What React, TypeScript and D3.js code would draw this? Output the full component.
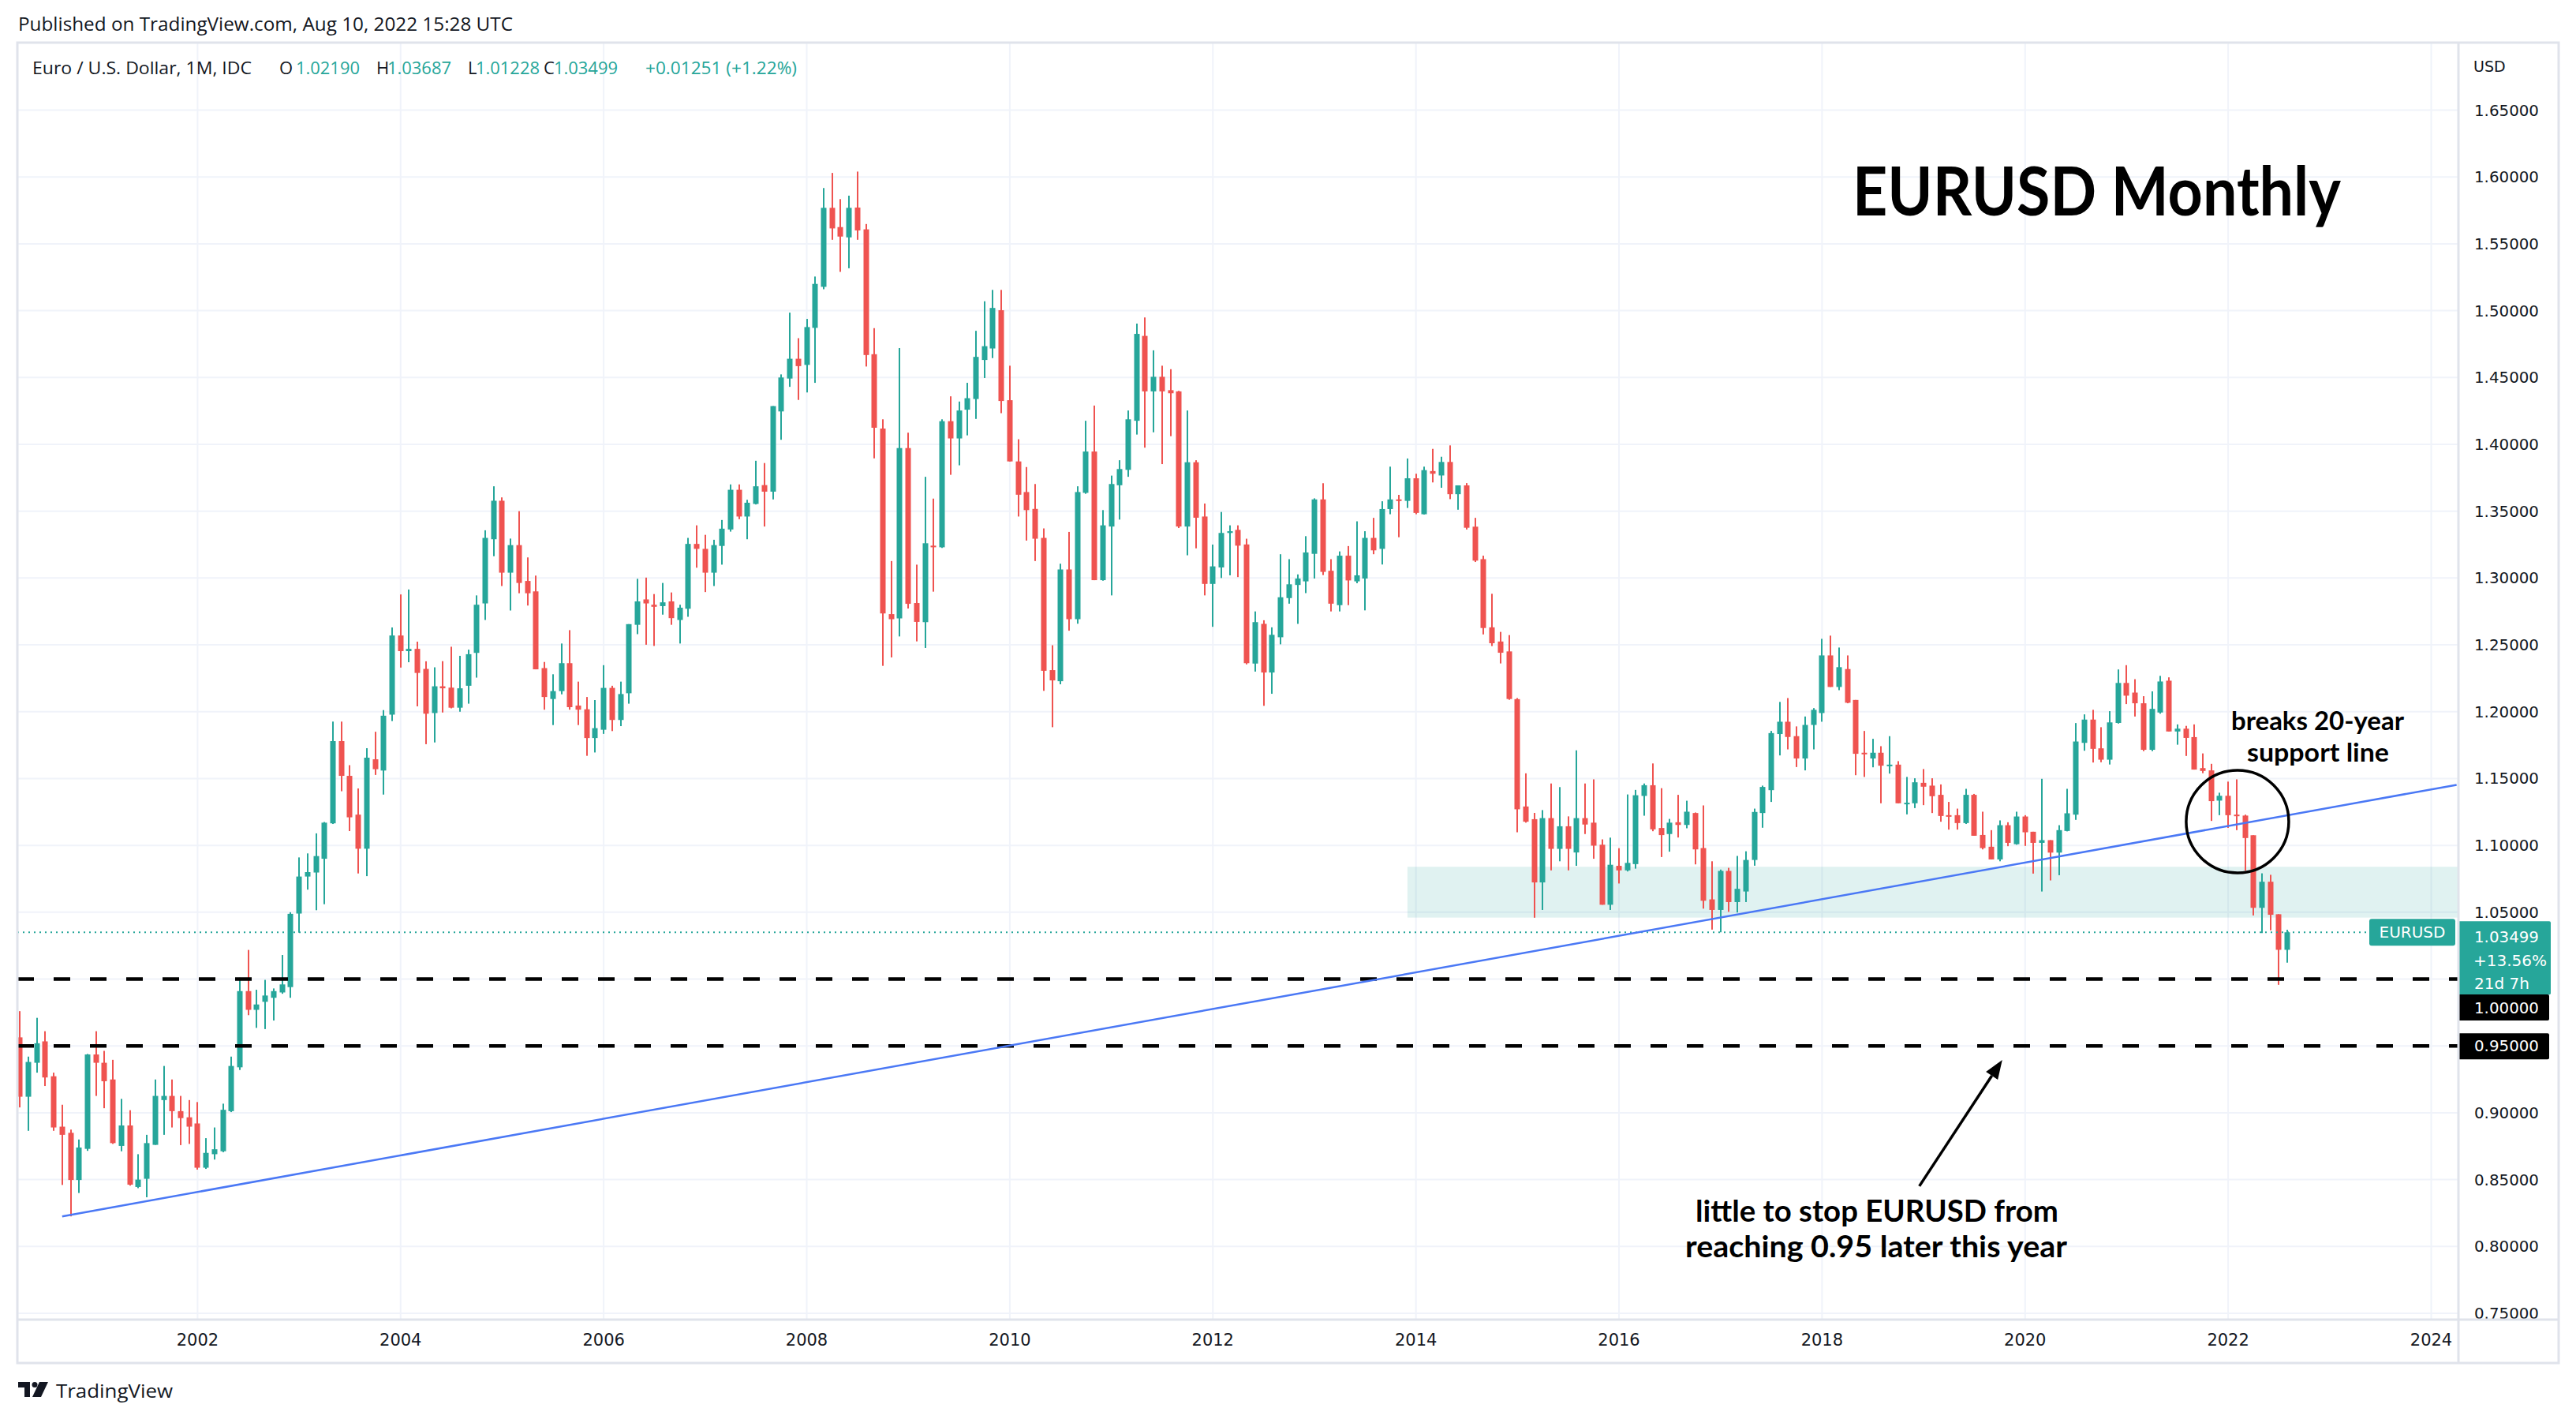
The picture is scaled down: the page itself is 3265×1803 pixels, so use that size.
import React from 'react';
import * as d3 from 'd3';

// ---------- DATA (EURUSD monthly, IDC) ----------
const FIRST_YEAR = 2000;
const FIRST_MONTH = 3; // April 2000 (0-based month)

const opens = [
  0.9564, 0.912, 0.9374, 0.9534, 0.9273, 0.8896, 0.885, 0.8497, 0.873,
  0.9436, 0.9374, 0.9249, 0.8752, 0.8905, 0.8445, 0.8506, 0.876, 0.9095, 0.9126, 0.9012, 0.8966,
  0.892, 0.8589, 0.869, 0.8712, 0.9012, 0.934, 0.991, 0.977, 0.983, 0.986, 0.99, 0.994,
  1.049, 1.0767, 1.0797, 1.09, 1.1165, 1.178, 1.152, 1.123, 1.0975, 1.1644, 1.156, 1.1978,
  1.257, 1.2453, 1.247, 1.232, 1.199, 1.219, 1.218, 1.203, 1.2194, 1.244, 1.281, 1.329,
  1.3578, 1.304, 1.3246, 1.2978, 1.29, 1.2326, 1.2095, 1.2154, 1.2363, 1.2046, 1.2018, 1.1803,
  1.1865, 1.2178, 1.1938, 1.2138, 1.265, 1.284, 1.28, 1.279, 1.2825, 1.2686, 1.277, 1.3255,
  1.3218, 1.304, 1.324, 1.3363, 1.366, 1.346, 1.3554, 1.3695, 1.3646, 1.4246, 1.4492, 1.464,
  1.4594, 1.4871, 1.5178, 1.5769, 1.5625, 1.5548, 1.5771, 1.5608, 1.4674, 1.4118, 1.273, 1.2698,
  1.3972, 1.2813, 1.267, 1.3242, 1.323, 1.4173, 1.4044, 1.4259, 1.4339, 1.4631, 1.4717, 1.5003,
  1.433, 1.3872, 1.3643, 1.3517, 1.33, 1.2311, 1.2228, 1.3064, 1.2692, 1.3637, 1.3946, 1.2984,
  1.3385, 1.3694, 1.3809, 1.4176, 1.4811, 1.4396, 1.4505, 1.4405, 1.4396, 1.3385, 1.3866, 1.346,
  1.2956, 1.3079, 1.3337, 1.336, 1.3251, 1.236, 1.2657, 1.2293, 1.2557, 1.285, 1.2948, 1.2975,
  1.3181, 1.3588, 1.3054, 1.2797, 1.3167, 1.2975, 1.2996, 1.33, 1.3218, 1.3516, 1.3588, 1.3577,
  1.3746, 1.3477, 1.38, 1.3767, 1.3868, 1.3627, 1.3693, 1.3384, 1.3141, 1.2631, 1.2525, 1.2451,
  1.2094, 1.1291, 1.1196, 1.0723, 1.1204, 1.0974, 1.1143, 1.0947, 1.1204, 1.117, 1.1005, 1.0556,
  1.0847, 1.0813, 1.086, 1.137, 1.145, 1.113, 1.1085, 1.1173, 1.1153, 1.1242, 1.098, 1.0596,
  1.0517, 1.0809, 1.0576, 1.0655, 1.0891, 1.1242, 1.1413, 1.1833, 1.1925, 1.1817, 1.165, 1.1901,
  1.199, 1.2421, 1.2185, 1.2319, 1.2088, 1.1693, 1.165, 1.1693, 1.1596, 1.1604, 1.1315, 1.1315,
  1.1468, 1.1447, 1.1378, 1.1226, 1.1226, 1.1167, 1.1378, 1.1078, 1.099, 1.0895, 1.1151, 1.1009,
  1.1216, 1.1102, 1.1019, 1.1039, 1.0946, 1.1108, 1.123, 1.1767, 1.1941, 1.1726, 1.1641, 1.1916,
  1.2215, 1.2143, 1.2063, 1.1715, 1.1994, 1.2232, 1.1852, 1.1873, 1.181, 1.1578, 1.1561, 1.1335,
  1.1371, 1.123, 1.1223, 1.1076, 1.0533, 1.0728, 1.0485, 1.0219,
];

const highs = [
  0.976, 0.942, 0.971, 0.961, 0.93, 0.906, 0.8874, 0.88, 0.944,
  0.961, 0.9463, 0.9396, 0.9104, 0.9019, 0.869, 0.8835, 0.9249, 0.935, 0.9249, 0.9126, 0.9095,
  0.908, 0.881, 0.889, 0.9068, 0.942, 1.001, 1.0218, 0.992, 0.9994, 0.993, 1.018, 1.05,
  1.091, 1.094, 1.109, 1.1175, 1.1926, 1.1926, 1.16, 1.1426, 1.1727, 1.185, 1.2012, 1.263,
  1.2877, 1.2914, 1.2524, 1.2377, 1.2332, 1.2378, 1.2486, 1.2418, 1.2464, 1.287, 1.3357, 1.3686,
  1.3603, 1.3295, 1.35, 1.3154, 1.3018, 1.2372, 1.228, 1.251, 1.261, 1.2225, 1.211, 1.2087,
  1.2348, 1.2194, 1.2225, 1.2655, 1.2994, 1.3003, 1.288, 1.2963, 1.2892, 1.28, 1.33, 1.3394,
  1.3323, 1.3286, 1.3434, 1.37, 1.37, 1.3585, 1.3877, 1.386, 1.4286, 1.4523, 1.4985, 1.4794,
  1.4938, 1.5255, 1.5917, 1.603, 1.5834, 1.586, 1.604, 1.5648, 1.4869, 1.4187, 1.3127, 1.472,
  1.4087, 1.31, 1.3757, 1.3594, 1.4187, 1.4359, 1.432, 1.446, 1.4849, 1.507, 1.5155, 1.5155,
  1.4588, 1.4038, 1.383, 1.3703, 1.3371, 1.2497, 1.3107, 1.3345, 1.3686, 1.4176, 1.429, 1.3508,
  1.3766, 1.3881, 1.4253, 1.4903, 1.4949, 1.4703, 1.4588, 1.4562, 1.44, 1.4253, 1.3881, 1.3557,
  1.325, 1.3494, 1.3394, 1.3394, 1.3294, 1.275, 1.2684, 1.2631, 1.3178, 1.3141, 1.3027, 1.3313,
  1.3596, 1.3709, 1.3141, 1.3199, 1.3239, 1.3424, 1.335, 1.345, 1.3574, 1.3833, 1.3622, 1.3894,
  1.378, 1.3833, 1.3966, 1.3907, 1.3992, 1.3693, 1.371, 1.345, 1.3167, 1.2882, 1.2597, 1.2573,
  1.2102, 1.1539, 1.1243, 1.1264, 1.1463, 1.1436, 1.1217, 1.1711, 1.1463, 1.1494, 1.1045, 1.1058,
  1.0979, 1.1381, 1.1415, 1.1463, 1.1613, 1.1428, 1.1198, 1.1378, 1.1334, 1.1246, 1.1299, 1.0881,
  1.0819, 1.0832, 1.0921, 1.0956, 1.1275, 1.1447, 1.1856, 1.2073, 1.2102, 1.189, 1.1964, 1.2027,
  1.2545, 1.2569, 1.248, 1.2421, 1.2088, 1.1856, 1.1797, 1.1742, 1.1817, 1.163, 1.1512, 1.1502,
  1.1571, 1.1502, 1.1456, 1.1325, 1.1275, 1.1423, 1.1385, 1.1252, 1.1114, 1.1187, 1.1173, 1.1252,
  1.1226, 1.1102, 1.1498, 1.1039, 1.1151, 1.1423, 1.1915, 1.198, 1.2014, 1.1884, 1.2004, 1.2316,
  1.2348, 1.2243, 1.2116, 1.2152, 1.2268, 1.2257, 1.1905, 1.1894, 1.1905, 1.1688, 1.161, 1.1394,
  1.1477, 1.1494, 1.123, 1.1076, 1.0791, 1.078, 1.0485, 1.03687,
];

const lows = [
  0.904, 0.8865, 0.93, 0.92, 0.8865, 0.846, 0.8225, 0.84, 0.8715,
  0.9126, 0.9034, 0.8767, 0.8712, 0.8455, 0.8436, 0.8368, 0.876, 0.8835, 0.889, 0.8758, 0.8767,
  0.8575, 0.858, 0.865, 0.8705, 0.9005, 0.932, 0.973, 0.9635, 0.9626, 0.969, 0.989, 0.986,
  1.0347, 1.0669, 1.0515, 1.056, 1.116, 1.1405, 1.1107, 1.079, 1.077, 1.1527, 1.138, 1.193,
  1.233, 1.237, 1.204, 1.1757, 1.177, 1.1994, 1.2025, 1.2, 1.206, 1.2255, 1.2686, 1.3163,
  1.294, 1.2757, 1.2886, 1.2794, 1.2317, 1.2015, 1.19, 1.213, 1.2015, 1.19, 1.167, 1.1695,
  1.1834, 1.1855, 1.1892, 1.206, 1.258, 1.2501, 1.2492, 1.2726, 1.265, 1.251, 1.271, 1.3077,
  1.2895, 1.294, 1.31, 1.3347, 1.344, 1.329, 1.355, 1.3385, 1.3588, 1.4034, 1.443, 1.4332,
  1.4388, 1.446, 1.516, 1.553, 1.529, 1.5317, 1.553, 1.4582, 1.3895, 1.2343, 1.2406, 1.2563,
  1.2772, 1.2526, 1.2477, 1.2898, 1.3225, 1.3772, 1.3843, 1.4067, 1.419, 1.4496, 1.4645, 1.4233,
  1.3872, 1.346, 1.328, 1.3127, 1.2156, 1.1884, 1.2205, 1.2606, 1.2658, 1.363, 1.2984, 1.298,
  1.287, 1.3437, 1.3757, 1.4073, 1.3975, 1.409, 1.3852, 1.4061, 1.3374, 1.317, 1.3222, 1.287,
  1.2635, 1.3, 1.302, 1.3007, 1.2354, 1.23, 1.2044, 1.2134, 1.2504, 1.2808, 1.2657, 1.2887,
  1.2996, 1.3022, 1.275, 1.275, 1.2797, 1.2961, 1.2758, 1.3178, 1.3101, 1.3477, 1.3305, 1.3524,
  1.3477, 1.3475, 1.3715, 1.3675, 1.359, 1.3511, 1.3363, 1.312, 1.2578, 1.2491, 1.2361, 1.2089,
  1.1098, 1.117, 1.0459, 1.0517, 1.0813, 1.0881, 1.0813, 1.0847, 1.1085, 1.09, 1.0556, 1.0517,
  1.0715, 1.0805, 1.0826, 1.1222, 1.1106, 1.0913, 1.0953, 1.1059, 1.1128, 1.0858, 1.0527, 1.037,
  1.035, 1.0503, 1.0498, 1.0576, 1.0848, 1.1132, 1.1325, 1.1673, 1.1718, 1.1586, 1.1561, 1.1718,
  1.1925, 1.2185, 1.2161, 1.2063, 1.1525, 1.1512, 1.1584, 1.1315, 1.1537, 1.1315, 1.1232, 1.1279,
  1.1301, 1.1242, 1.1177, 1.1118, 1.1118, 1.116, 1.1072, 1.097, 1.0895, 1.0881, 1.0994, 1.1005,
  1.0996, 1.0789, 1.0655, 1.0738, 1.0777, 1.1105, 1.1191, 1.1708, 1.162, 1.1622, 1.1605, 1.1911,
  1.2057, 1.1964, 1.1705, 1.1705, 1.1985, 1.1852, 1.1753, 1.1669, 1.1567, 1.154, 1.1183, 1.1226,
  1.1131, 1.1114, 1.0812, 1.0476, 1.0344, 1.0365, 0.9957, 1.01228,
];

const closes = [
  0.912, 0.938, 0.952, 0.9264, 0.889, 0.8835, 0.8497, 0.874, 0.9436,
  0.9374, 0.9236, 0.8773, 0.8905, 0.8462, 0.85, 0.8773, 0.9126, 0.9126, 0.9012, 0.896, 0.8896,
  0.8589, 0.87, 0.8727, 0.9022, 0.935, 0.991, 0.977, 0.981, 0.9877, 0.991, 0.996, 1.0488,
  1.0767, 1.08, 1.092, 1.117, 1.178, 1.152, 1.121, 1.0975, 1.1656, 1.157, 1.197, 1.257,
  1.2453, 1.247, 1.229, 1.1985, 1.219, 1.2175, 1.203, 1.2175, 1.243, 1.28, 1.33, 1.3578,
  1.304, 1.3246, 1.2963, 1.2886, 1.2317, 1.211, 1.2154, 1.2363, 1.2034, 1.2015, 1.1803, 1.1877,
  1.2178, 1.1938, 1.2132, 1.2655, 1.2825, 1.281, 1.2785, 1.2818, 1.27, 1.2778, 1.3255, 1.3218,
  1.304, 1.3246, 1.3369, 1.366, 1.346, 1.3563, 1.3686, 1.3646, 1.4286, 1.45, 1.464, 1.4585,
  1.4877, 1.52, 1.5769, 1.5615, 1.5554, 1.5769, 1.56, 1.4668, 1.4124, 1.2735, 1.2692, 1.3972,
  1.2807, 1.2672, 1.326, 1.323, 1.4173, 1.4044, 1.4253, 1.4345, 1.4654, 1.4734, 1.502, 1.4324,
  1.3872, 1.3623, 1.3508, 1.3294, 1.2306, 1.2234, 1.3064, 1.2692, 1.3643, 1.3946, 1.2984, 1.3394,
  1.3703, 1.3815, 1.4187, 1.4826, 1.4396, 1.4505, 1.4396, 1.4382, 1.3385, 1.3866, 1.3451, 1.2956,
  1.3087, 1.3337, 1.335, 1.3242, 1.2363, 1.267, 1.2293, 1.2575, 1.2856, 1.2953, 1.2996, 1.3191,
  1.3588, 1.3046, 1.2808, 1.3167, 1.2982, 1.302, 1.33, 1.3207, 1.3516, 1.3588, 1.3584, 1.3746,
  1.3487, 1.3807, 1.378, 1.3868, 1.3627, 1.3693, 1.3376, 1.313, 1.2626, 1.2512, 1.2441, 1.2095,
  1.127, 1.1177, 1.0723, 1.1204, 1.0974, 1.1143, 1.0974, 1.1204, 1.1156, 1.0998, 1.0556, 1.0855,
  1.0813, 1.0869, 1.1375, 1.145, 1.112, 1.1077, 1.117, 1.1153, 1.1252, 1.097, 1.0586, 1.0517,
  1.0809, 1.0576, 1.0675, 1.0891, 1.125, 1.1437, 1.184, 1.1925, 1.1811, 1.165, 1.1901, 1.2014,
  1.2421, 1.2185, 1.2333, 1.2067, 1.1685, 1.1689, 1.1693, 1.1596, 1.1604, 1.1315, 1.1319, 1.1472,
  1.1439, 1.1368, 1.122, 1.122, 1.1167, 1.1378, 1.1072, 1.098, 1.0895, 1.1151, 1.1019, 1.1216,
  1.1098, 1.1019, 1.1039, 1.0946, 1.1114, 1.124, 1.1777, 1.1941, 1.1722, 1.1641, 1.192, 1.2215,
  1.212, 1.2063, 1.1715, 1.2021, 1.2226, 1.1852, 1.1873, 1.1804, 1.1567, 1.1557, 1.1331, 1.1371,
  1.1226, 1.1223, 1.1055, 1.0533, 1.0728, 1.0481, 1.0219, 1.03499,
];

const yearTicks = [2002, 2004, 2006, 2008, 2010, 2012, 2014, 2016, 2018, 2020, 2022, 2024];
const priceTicks = [0.75, 0.8, 0.85, 0.9, 0.95, 1.0, 1.05, 1.1, 1.15, 1.2, 1.25, 1.3, 1.35, 1.4, 1.45, 1.5, 1.55, 1.6, 1.65];
const levelLines = [1.0, 0.95];
const trendStart = { month: '2000-09', price: 0.8225 };
const trendEnd = { month: '2024-04', price: 1.1453 };
const zone = { fromMonth: '2013-12', top: 1.084, bottom: 1.046 };
const circleMark = { month: 265.1, price: 1.1178 };
const arrowTail = { month: 227.5, price: 0.8451 };
const arrowTip = { month: 237.3, price: 0.9395 };
const lastPrice = 1.03499;
const lastChange = '+13.56%';
const countdown = '21d 7h';
const legendLabels = ['O', 'H', 'L', 'C'];
const legendValues = ['1.02190', '1.03687', '1.01228', '1.03499'];
const legendChange = '+0.01251 (+1.22%)';

// ---------- LAYOUT ----------
const W = 3265, H = 1803;
const PL = 22, PR = 3115, PT = 54, PB = 1672, FR = 3243, FB = 1727;
const UP = '#26a69a', DOWN = '#ef5350', TXT = '#131722', GRID = '#f0f3fa', BORDER = '#e0e3eb';

const monthNum = (s: string) => { const [y, m] = s.split('-').map(Number); return (y - FIRST_YEAR) * 12 + (m - 1); };

export default function App() {
  const x = d3.scaleLinear().domain([24, 288]).range([250.4, 3081.5]);
  const y = d3.scaleLinear().domain([0.75, 1.65]).range([1664, 139.5]);
  const fmt = d3.format('.5f');

  const candles = opens.map((o, i) => ({ m: FIRST_MONTH + i, o, h: highs[i], l: lows[i], c: closes[i] }));

  const t1 = { x: x(monthNum(trendStart.month)), y: y(trendStart.price) };
  const t2 = { x: x(monthNum(trendEnd.month)), y: y(trendEnd.price) };

  const tipX = x(arrowTip.month), tipY = y(arrowTip.price);
  const tailX = x(arrowTail.month), tailY = y(arrowTail.price);
  const ang = Math.atan2(tipY - tailY, tipX - tailX);
  const ahL = 24, ahW = 9;
  const bx = tipX - ahL * Math.cos(ang), by = tipY - ahL * Math.sin(ang);
  const head = `M${tipX},${tipY} L${bx + ahW * Math.sin(ang)},${by - ahW * Math.cos(ang)} L${bx - ahW * Math.sin(ang)},${by + ahW * Math.cos(ang)} Z`;

  const sans = "'Open Sans', 'DejaVu Sans', sans-serif";
  const axisFont = "'DejaVu Sans', sans-serif";
  const boldFont = "Lato, 'Open Sans', sans-serif";

  const legX = [354, 477, 593, 689];
  const valX = [375, 491, 603, 702];

  return (
    <svg width={W} height={H} style={{ position: 'absolute', left: 0, top: 0, display: 'block', background: '#fff' }}>
      <defs>
        <clipPath id="pane"><rect x={PL} y={PT} width={PR - PL} height={PB - PT} /></clipPath>
      </defs>
      <rect x={0} y={0} width={W} height={H} fill="#fff" />

      {/* header */}
      <text x={23} y={39} fontFamily={sans} fontSize={23} fill={TXT} textLength={627} lengthAdjust="spacingAndGlyphs">
        Published on TradingView.com, Aug 10, 2022 15:28 UTC
      </text>

      {/* grid */}
      <g clipPath="url(#pane)">
        {priceTicks.map((p) => (
          <line key={'h' + p} x1={PL} x2={PR} y1={y(p)} y2={y(p)} stroke={GRID} strokeWidth={2} />
        ))}
        {yearTicks.map((yr) => (
          <line key={'v' + yr} x1={x(monthNum(`${yr}-01`))} x2={x(monthNum(`${yr}-01`))} y1={PT} y2={PB} stroke={GRID} strokeWidth={2} />
        ))}
        {/* support zone */}
        <rect x={x(monthNum(zone.fromMonth))} y={y(zone.top)} width={PR - x(monthNum(zone.fromMonth))} height={y(zone.bottom) - y(zone.top)} fill="rgba(38,166,154,0.14)" />

        {/* candles */}
        {candles.map((d, i) => {
          const cx = Math.round(x(d.m));
          const col = d.c >= d.o ? UP : DOWN;
          const top = y(Math.max(d.o, d.c));
          const bot = y(Math.min(d.o, d.c));
          return (
            <g key={i}>
              <rect x={cx - 1} y={y(d.h)} width={2} height={Math.max(1, y(d.l) - y(d.h))} fill={col} />
              <rect x={cx - 3.5} y={top} width={7} height={Math.max(2, bot - top)} fill={col} />
            </g>
          );
        })}

        {/* last price dotted line */}
        <line x1={PL} x2={PR} y1={y(lastPrice)} y2={y(lastPrice)} stroke={UP} strokeWidth={2} strokeDasharray="2 5" />

        {/* horizontal dashed levels */}
        {levelLines.map((p) => (
          <line key={'lv' + p} x1={PL} x2={PR} y1={y(p)} y2={y(p)} stroke="#000" strokeWidth={4.5} strokeDasharray="21 25" />
        ))}

        {/* trend line */}
        <line x1={t1.x} y1={t1.y} x2={t2.x} y2={t2.y} stroke="#4a78f5" strokeWidth={2.5} />

        {/* circle */}
        <circle cx={x(circleMark.month)} cy={y(circleMark.price)} r={65} fill="none" stroke="#000" strokeWidth={3.5} />

        {/* arrow */}
        <line x1={tailX} y1={tailY} x2={bx} y2={by} stroke="#000" strokeWidth={3.5} />
        <path d={head} fill="#000" />
      </g>

      {/* legend */}
      <text y={94} fontFamily={sans} fontSize={22} fill={TXT}>
        <tspan x={41} textLength={278} lengthAdjust="spacingAndGlyphs">Euro / U.S. Dollar, 1M, IDC</tspan>
      </text>
      {legendLabels.map((lb, i) => (
        <text key={lb} y={94} fontFamily={sans} fontSize={22}>
          <tspan x={legX[i]} fill={TXT}>{lb}</tspan>
          <tspan x={valX[i]} fill={UP} textLength={81} lengthAdjust="spacingAndGlyphs">{legendValues[i]}</tspan>
        </text>
      ))}
      <text x={818} y={94} fontFamily={sans} fontSize={22} fill={UP} textLength={192} lengthAdjust="spacingAndGlyphs">{legendChange}</text>

      {/* title & annotations */}
      <text x={2348} y={273} fontFamily={boldFont} fontWeight={700} fontSize={86} fill="#000" textLength={619} lengthAdjust="spacingAndGlyphs">EURUSD Monthly</text>
      <text x={2828} y={925} fontFamily={boldFont} fontWeight={700} fontSize={32} fill="#000" textLength={219} lengthAdjust="spacingAndGlyphs">breaks 20-year</text>
      <text x={2848} y={965} fontFamily={boldFont} fontWeight={700} fontSize={32} fill="#000" textLength={180} lengthAdjust="spacingAndGlyphs">support line</text>
      <text x={2149} y={1548} fontFamily={boldFont} fontWeight={700} fontSize={38} fill="#000" textLength={460} lengthAdjust="spacingAndGlyphs">little to stop EURUSD from</text>
      <text x={2136} y={1593} fontFamily={boldFont} fontWeight={700} fontSize={38} fill="#000" textLength={484} lengthAdjust="spacingAndGlyphs">reaching 0.95 later this year</text>

      {/* EURUSD label on pane */}
      <rect x={3003} y={y(lastPrice) - 17} width={109} height={34} rx={3} fill={UP} />
      <text x={3057.5} y={y(lastPrice) + 7} textAnchor="middle" fontFamily={axisFont} fontSize={20} fill="#fff">EURUSD</text>

      {/* price axis */}
      <text x={3135} y={91} fontFamily={axisFont} fontSize={19} fill={TXT}>USD</text>
      {priceTicks.filter((p) => p !== 1.0 && p !== 0.95).map((p) => (
        <text key={'pl' + p} x={3136} y={y(p) + 7} fontFamily={axisFont} fontSize={20} fill={TXT} textLength={82} lengthAdjust="spacingAndGlyphs">{fmt(p)}</text>
      ))}
      {/* last price box */}
      <rect x={3115} y={y(lastPrice) - 14} width={118} height={93} rx={2} fill={UP} />
      <text x={3136} y={y(lastPrice) + 13} fontFamily={axisFont} fontSize={20} fill="#fff" textLength={82} lengthAdjust="spacingAndGlyphs">{fmt(lastPrice)}</text>
      <text x={3135} y={y(lastPrice) + 43} fontFamily={axisFont} fontSize={20} fill="#fff">{lastChange}</text>
      <text x={3136} y={y(lastPrice) + 72} fontFamily={axisFont} fontSize={20} fill="#fff">{countdown}</text>
      {/* level boxes */}
      <rect x={3115} y={1260} width={116} height={33} rx={2} fill="#000" />
      <text x={3136} y={1284} fontFamily={axisFont} fontSize={20} fill="#fff" textLength={82} lengthAdjust="spacingAndGlyphs">{fmt(levelLines[0])}</text>
      <rect x={3115} y={y(levelLines[1]) - 16} width={116} height={33} rx={2} fill="#000" />
      <text x={3136} y={y(levelLines[1]) + 7} fontFamily={axisFont} fontSize={20} fill="#fff" textLength={82} lengthAdjust="spacingAndGlyphs">{fmt(levelLines[1])}</text>

      {/* time axis */}
      {yearTicks.map((yr) => (
        <text key={'yl' + yr} x={x(monthNum(`${yr}-01`))} y={1705} textAnchor="middle" fontFamily={axisFont} fontSize={21} fill={TXT}>{yr}</text>
      ))}

      {/* frame */}
      <line x1={PR + 1} x2={PR + 1} y1={PT} y2={FB} stroke={BORDER} strokeWidth={3} />
      <line x1={PL} x2={FR} y1={PB} y2={PB} stroke={BORDER} strokeWidth={3} />
      <rect x={PL} y={PT} width={FR - PL} height={FB - PT} fill="none" stroke={BORDER} strokeWidth={3} />

      {/* footer logo */}
      <g transform="translate(23,1751)" fill={TXT}>
        <path d="M0,0 H15 V19 H8 V7 H0 Z" />
        <circle cx={21} cy={3.5} r={3.5} />
        <path d="M27,0 H38 L29,19 H18 Z" />
      </g>
      <text x={71} y={1771} fontFamily={sans} fontSize={23} fill={TXT} textLength={148} lengthAdjust="spacingAndGlyphs">TradingView</text>
    </svg>
  );
}
